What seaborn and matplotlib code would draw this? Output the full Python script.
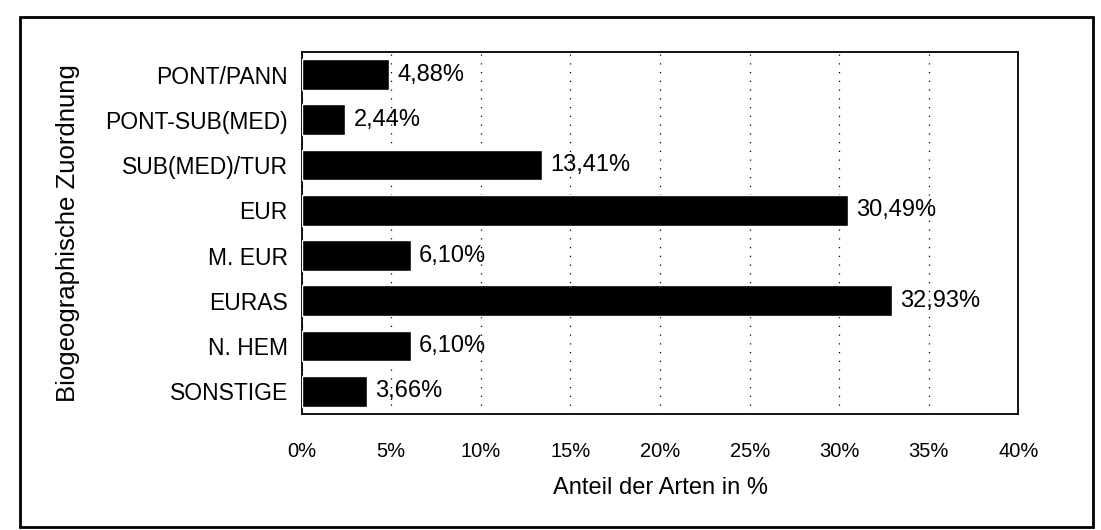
import pandas as pd
import seaborn as sns
import matplotlib.pyplot as plt
from matplotlib.patches import Rectangle
from matplotlib.ticker import FixedLocator

# Biogeographic groups and share of species (%)
groups = ["PONT/PANN", "PONT-SUB(MED)", "SUB(MED)/TUR", "EUR",
          "M. EUR", "EURAS", "N. HEM", "SONSTIGE"]
shares = [4.88, 2.44, 13.41, 30.49, 6.10, 32.93, 6.10, 3.66]
x_ticks = [0, 5, 10, 15, 20, 25, 30, 35, 40]

data = pd.DataFrame({"Gruppe": groups, "Anteil": shares})

sns.set_style("white", {"text.color": "black", "axes.labelcolor": "black",
                        "xtick.color": "black", "ytick.color": "black"})
plt.rcParams['font.family'] = ['Liberation Sans', 'DejaVu Sans']

fig = plt.figure(figsize=(11.01, 5.30), dpi=100)
ax = fig.add_axes([0.274, 0.219, 0.651, 0.683])

sns.barplot(data=data, x="Anteil", y="Gruppe", orient="h", color="black",
            width=0.68, saturation=1, ax=ax, zorder=3)

# value labels with German decimal comma
for i, v in enumerate(shares):
    ax.text(v + 0.45, i, f"{v:.2f}".replace(".", ",") + "%",
            va="center", ha="left", fontsize=17, color="black", zorder=4)

ax.set_xlim(0, 40)
ax.set_xticks(x_ticks)
ax.set_xticklabels([f"{t}%" for t in x_ticks], fontsize=14.5)
ax.tick_params(axis="x", length=0, pad=20)
ax.tick_params(axis="y", which="major", length=0, pad=10, labelsize=16.5)
ax.yaxis.set_minor_locator(FixedLocator([i + 0.5 for i in range(-1, len(groups))]))
ax.tick_params(axis="y", which="minor", length=5, width=1.2, color="black")

# sparse dotted vertical grid
ax.xaxis.grid(True, linestyle=(0, (1, 6)), color="black", linewidth=0.9)
ax.set_axisbelow(True)

for s in ax.spines.values():
    s.set_color("black")
    s.set_linewidth(1.3)

ax.set_xlabel("Anteil der Arten in %", fontsize=17, labelpad=12)
ax.set_ylabel("Biogeographische Zuordnung", fontsize=18.5, labelpad=18)

# outer frame of the scanned figure
fig.patches.append(Rectangle((0.018, 0.006), 0.975, 0.962, transform=fig.transFigure,
                             fill=False, edgecolor="black", linewidth=2))

fig.savefig("out.png", dpi=100)
